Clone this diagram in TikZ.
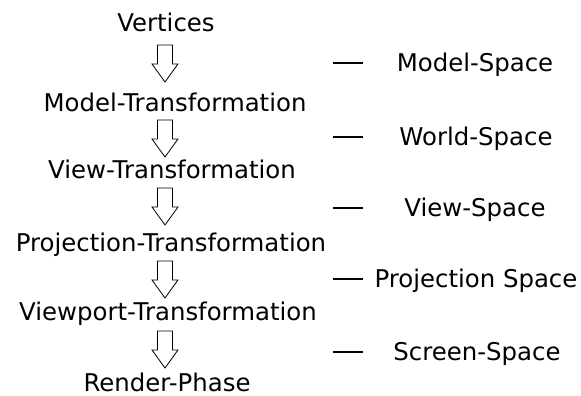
\documentclass[tikz,border=0pt]{standalone}
\usepackage{fontspec}
\setmainfont{DejaVu Sans}
\tikzset{
    stage/.style={anchor=base, inner sep=0pt, font=\fontsize{24.4}{29}\selectfont},
    space/.style={anchor=base, inner sep=0pt, font=\fontsize{24.4}{29}\selectfont},
    blockarrow/.pic={
        \draw[line width=0.8pt, line join=miter] (-7.5,0) -- (-7.5,19) -- (-13,19) -- (0,37)
            -- (13,19) -- (7.5,19) -- (7.5,0) -- cycle;
    }
}
\begin{document}
\begin{tikzpicture}[x=1pt, y=-1pt]
        \useasboundingbox (0,0) rectangle (581,396);

        % pipeline stages
        \node[stage] (vert) at (166, 31.5) {Vertices};
        \node[stage] (model) at (175, 111) {Model-Transformation};
        \node[stage] (view) at (172, 178) {View-Transformation};
        \node[stage] (proj) at (171, 251) {Projection-Transformation};
        \node[stage] (port) at (168, 320) {Viewport-Transformation};
        \node[stage] (render) at (167, 391) {Render-Phase};

        % arrows between stages
        \pic at (165, 45) {blockarrow};
        \pic at (165, 120) {blockarrow};
        \pic at (165, 188) {blockarrow};
        \pic at (165, 261) {blockarrow};
        \pic at (165, 331) {blockarrow};

        % spaces
        \node[space] (ms) at (475, 72) {Model-Space};
        \node[space] (ws) at (476, 145) {World-Space};
        \node[space] (vs) at (475, 216) {View-Space};
        \node[space] (ps) at (476, 287) {Projection Space};
        \node[space] (ss) at (477, 360) {Screen-Space};

        \draw[line width=1.2pt] (333, 63) -- (363, 63);
        \draw[line width=1.2pt] (333, 137) -- (363, 137);
        \draw[line width=1.2pt] (333, 208) -- (363, 208);
        \draw[line width=1.2pt] (333, 279) -- (363, 279);
        \draw[line width=1.2pt] (333, 352) -- (363, 352);

\end{tikzpicture}
\end{document}
